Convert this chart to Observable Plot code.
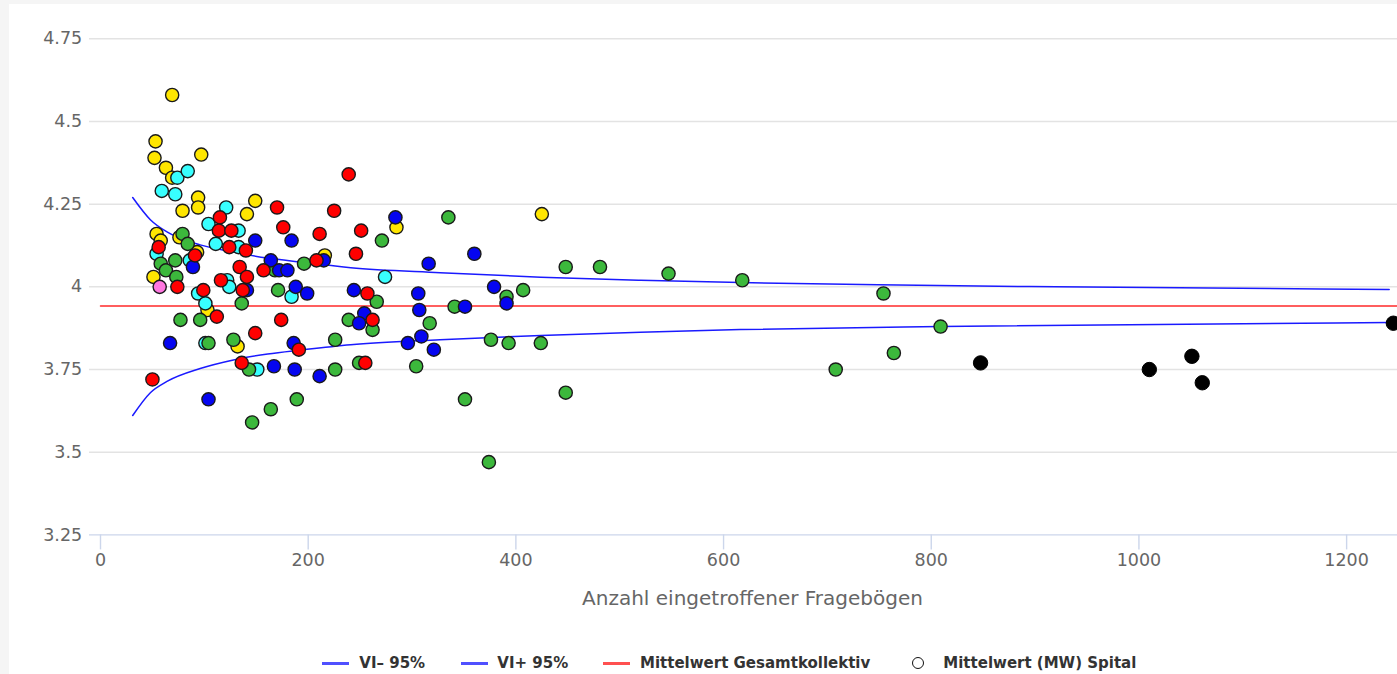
<!DOCTYPE html>
<html><head><meta charset="utf-8">
<script src="https://cdn.jsdelivr.net/npm/d3@7"></script>
<script src="https://cdn.jsdelivr.net/npm/@observablehq/plot@0.6"></script>
<style>
html,body{margin:0;padding:0;background:#f5f5f5;width:1397px;height:674px;overflow:hidden}
#wrap{position:absolute;left:9px;top:4px;width:1388px;height:670px;background:#fff}
#chart{position:absolute;left:0;top:0}
#legend{position:absolute;left:0;top:648px;width:1388px;height:22px;font-family:"DejaVu Sans",sans-serif;font-weight:bold;font-size:15px;color:#333}
.sym{position:absolute;top:10px;width:27px;height:2.5px}
.txt{position:absolute;top:0;height:22px;line-height:22px;white-space:nowrap}
.circ{position:absolute;top:4.5px;width:10px;height:10px;border:1.6px solid #111;border-radius:50%;box-sizing:content-box}
</style></head>
<body><div id="wrap"><div id="chart"></div><div id="legend"></div></div>
<script>
// ---- data ----
const yellowN = [69, 53, 52, 63, 69, 97, 94, 94, 79, 149, 141, 54, 58, 76, 93, 51, 103, 132, 216, 285, 425];
const yellowV = [4.58, 4.44, 4.39, 4.36, 4.33, 4.40, 4.27, 4.24, 4.23, 4.26, 4.22, 4.16, 4.14, 4.15, 4.105, 4.03, 3.93, 3.82, 4.095, 4.18, 4.22];

const cyanN = [74, 84, 59, 72, 121, 104, 133, 111, 133, 54, 86, 122, 124, 94, 101, 101, 151, 184, 274];
const cyanV = [4.33, 4.35, 4.29, 4.28, 4.24, 4.19, 4.17, 4.13, 4.12, 4.10, 4.08, 4.02, 4.00, 3.98, 3.95, 3.83, 3.75, 3.97, 4.03];

const greenN = [79, 84, 58, 63, 72, 73, 168, 196, 271, 335, 448, 481, 547, 618, 171, 136, 266, 391, 407, 341, 754, 77, 96, 239, 262, 317, 809, 104, 128, 226, 376, 393, 424, 249, 304, 143, 226, 708, 764, 448, 351, 189, 164, 146, 374];
const greenV = [4.16, 4.13, 4.07, 4.05, 4.08, 4.03, 4.05, 4.07, 4.14, 4.21, 4.06, 4.06, 4.04, 4.02, 3.99, 3.95, 3.955, 3.97, 3.99, 3.94, 3.98, 3.90, 3.90, 3.90, 3.87, 3.89, 3.88, 3.83, 3.84, 3.84, 3.84, 3.83, 3.83, 3.77, 3.76, 3.75, 3.75, 3.75, 3.80, 3.68, 3.66, 3.66, 3.63, 3.59, 3.47];

const blueN = [284, 149, 184, 316, 360, 164, 215, 172, 180, 89, 141, 188, 199, 244, 306, 379, 391, 351, 307, 254, 249, 309, 296, 321, 67, 186, 167, 187, 211, 104];
const blueV = [4.21, 4.14, 4.14, 4.07, 4.10, 4.08, 4.08, 4.05, 4.05, 4.06, 3.99, 4.00, 3.98, 3.99, 3.98, 4.00, 3.95, 3.94, 3.93, 3.92, 3.89, 3.85, 3.83, 3.81, 3.83, 3.83, 3.76, 3.75, 3.73, 3.66];

const redN = [239, 170, 225, 115, 176, 251, 114, 126, 211, 124, 140, 56, 91, 246, 134, 157, 208, 141, 116, 74, 137, 99, 257, 112, 174, 262, 149, 191, 136, 255, 50];
const redV = [4.34, 4.24, 4.23, 4.21, 4.18, 4.17, 4.17, 4.17, 4.16, 4.12, 4.11, 4.12, 4.095, 4.10, 4.06, 4.05, 4.08, 4.03, 4.02, 4.00, 3.99, 3.99, 3.98, 3.91, 3.90, 3.90, 3.86, 3.81, 3.77, 3.77, 3.72];

const pinkN = [57];
const pinkV = [4.00];

const blackN = [847.5, 1010, 1051, 1061, 1245];
const blackV = [3.77, 3.75, 3.79, 3.71, 3.89];

// confidence interval curves (VI+ / VI- 95%)
const upperN = [31, 48, 64, 96, 128, 161, 193, 241, 327, 424, 520, 616, 749, 920, 1241];
const upperV = [4.270, 4.203, 4.166, 4.127, 4.105, 4.087, 4.075, 4.058, 4.043, 4.029, 4.020, 4.013, 4.006, 4.000, 3.992];
const lowerN = [31, 48, 64, 96, 128, 161, 193, 241, 327, 424, 520, 616, 809, 1241];
const lowerV = [3.611, 3.680, 3.714, 3.753, 3.779, 3.797, 3.809, 3.825, 3.840, 3.853, 3.863, 3.871, 3.880, 3.892];

// overall mean
const meanN = [0, 1249];
const meanValue = 3.942;

const xTicks = [0, 200, 400, 600, 800, 1000, 1200];
const xTickLabels = ["0", "200", "400", "600", "800", "1000", "1200"];
const yTicks = [3.25, 3.5, 3.75, 4, 4.25, 4.5, 4.75];
const yTickLabels = ["3.25", "3.5", "3.75", "4", "4.25", "4.5", "4.75"];
const xTitle = "Anzahl eingetroffener Fragebögen";
const legendNames = ["VI– 95%", "VI+ 95%", "Mittelwert Gesamtkollektiv", "Mittelwert (MW) Spital"];

const seriesColors = {yellow: "#ffe600", cyan: "#38ffff", green: "#3cb83c", blue: "#0505f0", red: "#ff0000", pink: "#ff77e0", black: "#000000"};

// ---- build tables ----
const zip = (N, V, s) => N.map((n, i) => ({n, v: V[i], s}));
const points = [
  ...zip(yellowN, yellowV, "yellow"),
  ...zip(cyanN, cyanV, "cyan"),
  ...zip(greenN, greenV, "green"),
  ...zip(blueN, blueV, "blue"),
  ...zip(redN, redV, "red"),
  ...zip(pinkN, pinkV, "pink")
];
const blackPts = zip(blackN, blackV, "black");
const upper = zip(upperN, upperV, "up");
const lower = zip(lowerN, lowerV, "low");
const mean = meanN.map(n => ({n, v: meanValue}));
const yGrid = yTicks.filter(t => t > 3.25);

const chart = Plot.plot({
  width: 1388, height: 640,
  marginLeft: 80, marginRight: 0, marginTop: 34.3, marginBottom: 109.6,
  x: {domain: [-10.6, 1249]},
  y: {domain: [3.25, 4.75]},
  style: {fontFamily: "'DejaVu Sans', sans-serif", fontSize: "17.5px", background: "transparent", overflow: "visible"},
  marks: [
    Plot.ruleY(yGrid, {stroke: "#e3e3e3", strokeWidth: 1.5}),
    Plot.ruleY([3.25], {stroke: "#ccd6eb", strokeWidth: 1.4}),
    Plot.axisY({ticks: yTicks, tickFormat: d => yTickLabels[yTicks.indexOf(d)], tickSize: 0, tickPadding: 7.3, fontSize: 17.5, fill: "#666", label: null}),
    Plot.axisX({ticks: xTicks, tickFormat: d => xTickLabels[xTicks.indexOf(d)], tickSize: 15, tickPadding: 4, stroke: "#ccd6eb", strokeWidth: 1.4, fontSize: 17.5, fill: "#666", label: null}),
    Plot.text([xTitle], {text: d => d, frameAnchor: "bottom", dy: 70, dx: 9, fontSize: 20, fill: "#666"}),
    Plot.line(mean, {x: "n", y: "v", stroke: "#ff2a2a", strokeWidth: 1.5}),
    Plot.line(upper, {x: "n", y: "v", stroke: "#1a1aff", strokeWidth: 1.5, curve: "monotone-x"}),
    Plot.line(lower, {x: "n", y: "v", stroke: "#1a1aff", strokeWidth: 1.5, curve: "monotone-x"}),
    Plot.dot(points, {x: "n", y: "v", r: 6.6, fill: d => seriesColors[d.s], stroke: "#1a1a1a", strokeWidth: 1.4}),
    Plot.dot(blackPts, {x: "n", y: "v", r: 7.2, fill: seriesColors.black, stroke: "#000", strokeWidth: 1})
  ]
});
document.getElementById("chart").appendChild(chart);

// ---- legend ----
const legend = d3.select("#legend");
const items = [
  {sym: "line", color: "#5050ff", symLeft: 313.3, txtLeft: 350.3},
  {sym: "line", color: "#5050ff", symLeft: 451.7, txtLeft: 488.3},
  {sym: "line", color: "#ff5050", symLeft: 593.7, txtLeft: 631},
  {sym: "circle", color: "#111", symLeft: 903.1, txtLeft: 934.3}
];
items.forEach((it, i) => {
  if (it.sym === "line") {
    legend.append("div").attr("class", "sym").style("left", it.symLeft + "px").style("background", it.color);
  } else {
    legend.append("div").attr("class", "circ").style("left", it.symLeft + "px");
  }
  legend.append("div").attr("class", "txt").style("left", it.txtLeft + "px").text(legendNames[i]);
});
</script>
</body></html>
